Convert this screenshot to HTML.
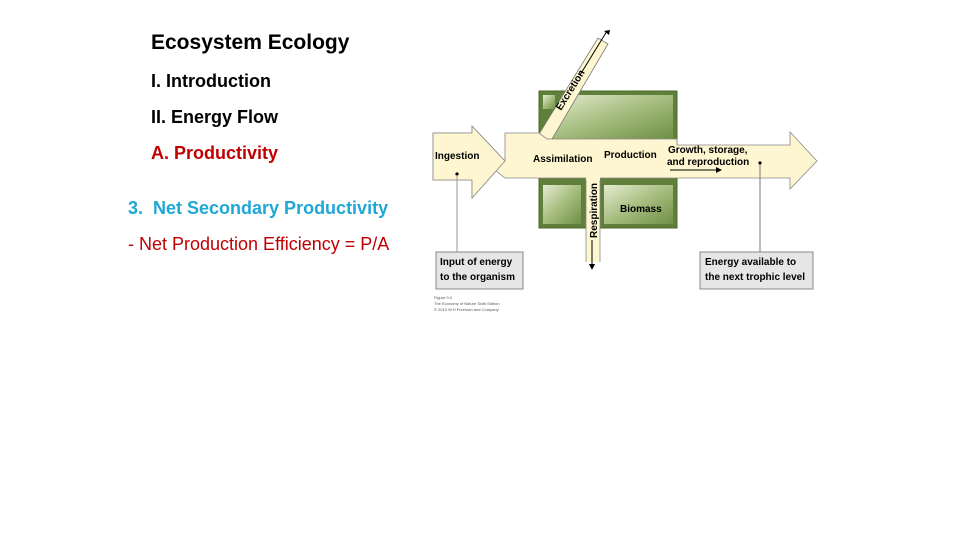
<!DOCTYPE html>
<html><head><meta charset="utf-8"><style>
body{margin:0;width:960px;height:540px;background:#fff;position:relative;overflow:hidden;font-family:"Liberation Sans",sans-serif}
.t{position:absolute;white-space:nowrap;font-weight:bold}
</style></head><body>
<div class="t" style="left:151px;top:31px;font-size:21px;color:#000">Ecosystem Ecology</div>
<div class="t" style="left:151px;top:71px;font-size:18px;color:#000">I. Introduction</div>
<div class="t" style="left:151px;top:107px;font-size:18px;color:#000">II. Energy Flow</div>
<div class="t" style="left:151px;top:143px;font-size:18px;color:#c00000">A. Productivity</div>
<div class="t" style="left:128px;top:198px;font-size:18px;color:#1fa7d6">3.&nbsp; Net Secondary Productivity</div>
<div class="t" style="left:128px;top:234px;font-size:18px;color:#c00000;font-weight:normal">- Net Production Efficiency = P/A</div>
<svg width="960" height="540" style="position:absolute;left:0;top:0" font-family="Liberation Sans,sans-serif" font-weight="bold">
<defs>
<linearGradient id="g" x1="0" y1="0" x2="1" y2="1"><stop offset="0" stop-color="#e4ecd2"/><stop offset="0.5" stop-color="#a6bd7f"/><stop offset="1" stop-color="#6f8f45"/></linearGradient>
</defs>
<rect x="539" y="91" width="138" height="137" fill="#5f7f3a" stroke="#4a6a2a"/>
<rect x="543" y="95" width="12" height="14" fill="url(#g)"/>
<polygon points="562,95 673,95 673,139 547,139" fill="url(#g)"/>
<rect x="543" y="185" width="38" height="39" fill="url(#g)"/>
<rect x="604" y="185" width="69" height="39" fill="url(#g)"/>
<!-- excretion band -->
<polygon points="536,139 598,38 608,44 552,139" fill="#fdf6d0" stroke="#777" stroke-width="0.8"/>
<!-- main arrow -->
<polygon points="433,133 472,133 472,126 505,161 472,198 472,180 433,180" fill="#fdf6d0" stroke="#888" stroke-width="0.8"/>
<polygon points="505,133 539,133 547,139 677,139 677,145 790,145 790,132 817,161 790,189 790,178 600,178 600,182 586,182 586,178 505,178 495,170 505,161" fill="#fdf6d0" stroke="#888" stroke-width="0.8"/>
<polygon points="433,133 472,133 472,126 505,161 472,198 472,180 433,180" fill="#fdf6d0" stroke="#888" stroke-width="0.8"/>
<rect x="586" y="176" width="14" height="86" fill="#fdf6d0"/>
<line x1="586" y1="180" x2="586" y2="262" stroke="#888" stroke-width="0.8"/>
<line x1="600" y1="180" x2="600" y2="262" stroke="#888" stroke-width="0.8"/>
<line x1="592" y1="240" x2="592" y2="266" stroke="#000"/><polygon points="589,264 595,264 592,270" fill="#000"/>
<line x1="580" y1="75" x2="607" y2="31" stroke="#000"/><polygon points="604,31 610,30 609,35" fill="#000"/>
<text transform="translate(561,111) rotate(-58)" font-size="10" fill="#000">Excretion</text>
<text transform="translate(597,238) rotate(-90)" font-size="10" fill="#000">Respiration</text>
<text x="435" y="159" font-size="10">Ingestion</text>
<text x="533" y="162" font-size="10">Assimilation</text>
<text x="604" y="158" font-size="10">Production</text>
<text x="668" y="153" font-size="10">Growth, storage,</text>
<text x="667" y="165" font-size="10">and reproduction</text>
<text x="620" y="212" font-size="10">Biomass</text>
<line x1="670" y1="170" x2="718" y2="170" stroke="#000"/><polygon points="716,167 722,170 716,173" fill="#000"/>
<circle cx="457" cy="174" r="1.6"/><line x1="457" y1="175" x2="457" y2="252" stroke="#999"/>
<circle cx="760" cy="163" r="1.6"/><line x1="760" y1="164" x2="760" y2="252" stroke="#777"/>
<rect x="436" y="252" width="87" height="37" fill="#e6e6e6" stroke="#888"/>
<text x="440" y="265" font-size="10">Input of energy</text>
<text x="440" y="280" font-size="10">to the organism</text>
<rect x="700" y="252" width="113" height="37" fill="#e6e6e6" stroke="#888"/>
<text x="705" y="265" font-size="10">Energy available to</text>
<text x="705" y="280" font-size="10">the next trophic level</text>
<text x="434" y="299" font-size="4" font-weight="normal" fill="#555">Figure 0.0</text>
<text x="434" y="305" font-size="4" font-weight="normal" fill="#555">The Economy of Nature Sixth Edition</text>
<text x="434" y="311" font-size="4" font-weight="normal" fill="#555">© 2010 W.H.Freeman and Company</text>
</svg>
</body></html>
